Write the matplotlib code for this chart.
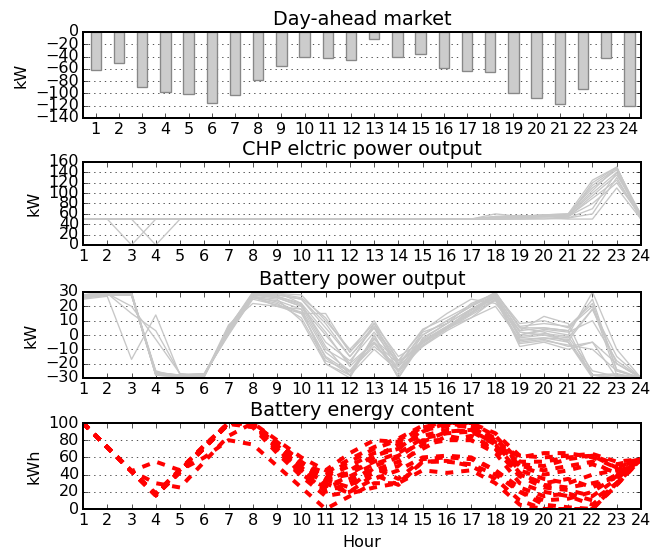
import matplotlib
matplotlib.use('Agg')
import matplotlib.pyplot as plt

plt.style.use('classic')

# hours and day-ahead purchase
hours = list(range(1, 25))
day_ahead = [-62, -50, -90, -98, -101, -116, -103, -78, -55, -40, -42, -46,
             -12, -40, -36, -59, -63, -65, -100, -108, -117, -92, -43, -120]

# CHP electric output per scenario (kW)
chp = [
    [50, 50, 50, 50, 50, 50, 50, 50, 50, 50, 50, 50, 50, 50, 50, 50, 50, 50, 52, 55, 55, 120, 150, 50],
    [50, 50, 0, 50, 50, 50, 50, 50, 50, 50, 50, 50, 50, 50, 50, 50, 50, 50, 55, 58, 60, 110, 145, 55],
    [50, 50, 50, 0, 50, 50, 50, 50, 50, 50, 50, 50, 50, 50, 50, 50, 50, 52, 55, 55, 57, 100, 140, 50],
    [50, 50, 50, 50, 50, 50, 50, 50, 50, 50, 50, 50, 50, 50, 50, 50, 50, 60, 55, 55, 55, 90, 125, 55],
    [50, 50, 50, 50, 50, 50, 50, 50, 50, 50, 50, 50, 50, 50, 50, 50, 50, 50, 50, 52, 50, 50, 110, 50],
    [50, 50, 50, 50, 50, 50, 50, 50, 50, 50, 50, 50, 50, 50, 50, 50, 50, 52, 55, 58, 58, 115, 148, 58],
    [50, 50, 50, 50, 50, 50, 50, 50, 50, 50, 50, 50, 50, 50, 50, 50, 50, 50, 55, 55, 52, 60, 130, 50],
    [50, 50, 50, 50, 50, 50, 50, 50, 50, 50, 50, 50, 50, 50, 50, 50, 50, 55, 55, 55, 57, 105, 150, 52],
    [50, 50, 50, 50, 50, 50, 50, 50, 50, 50, 50, 50, 50, 50, 50, 50, 50, 50, 52, 55, 55, 80, 120, 55],
    [50, 50, 50, 50, 50, 50, 50, 50, 50, 50, 50, 50, 50, 50, 50, 50, 50, 52, 55, 58, 60, 125, 150, 50],
    [50, 50, 50, 50, 50, 50, 50, 50, 50, 50, 50, 50, 50, 50, 50, 50, 50, 50, 50, 50, 52, 70, 140, 55],
    [50, 50, 50, 50, 50, 50, 50, 50, 50, 50, 50, 50, 50, 50, 50, 50, 50, 55, 57, 55, 55, 95, 135, 60],
]

# battery power per scenario (kW)
batt_power = [
    [27, 29, 29, -27, -28, -28, 2, 28, 26, 20, -10, -20, -5, -20, -5, 5, 15, 28, 2, 0, -2, 18, -15, -30],
    [28, 29, 30, -28, -29, -28, 4, 29, 28, 25, 5, -15, 5, -25, 0, 10, 20, 30, 5, 5, 3, 25, -25, -30],
    [26, 28, 28, -26, -28, -27, 0, 26, 22, 12, -18, -25, -3, -18, -8, 3, 12, 25, -5, -3, -8, -5, -20, -30],
    [28, 29, 15, 3, -27, -29, 5, 30, 29, 28, 10, -10, 8, -22, 2, 8, 22, 29, 8, 10, 5, 20, -28, -30],
    [25, 27, -17, 14, -28, -27, 3, 27, 20, 18, -20, -30, 0, -30, -2, 8, 18, 28, -8, -5, -10, -5, -30, -30],
    [28, 30, 29, -25, -30, -29, 6, 28, 26, 20, 0, -20, 8, -15, -5, 5, 18, 26, 0, 3, 0, 30, -10, -30],
    [27, 28, 28, -28, -29, -28, 2, 29, 30, 22, -8, -28, -10, -25, -8, 5, 15, 30, 5, 2, -5, -28, -30, -30],
    [27, 29, 20, -3, -27, -28, 7, 22, 20, 15, 15, -12, 10, -18, 3, 15, 25, 22, 3, 13, 8, -28, -28, -30],
    [26, 28, 28, -27, -28, -27, 1, 27, 25, 10, -20, -28, 0, -30, -5, 5, 12, 20, -3, -2, -3, -28, -27, -30],
    [28, 29, 29, -26, -28, -29, 3, 28, 28, 25, 8, -15, 5, -20, 0, 10, 20, 28, 3, 5, 3, -30, -30, -30],
    [27, 28, 29, -28, -29, -28, 4, 29, 27, 22, 2, -22, -5, -28, -3, 8, 18, 27, -2, 0, -4, 18, -20, -30],
    [26, 28, 28, -27, -28, -28, 3, 26, 24, 18, -12, -25, -8, -22, -6, 5, 15, 25, -4, -2, -5, -30, -28, -30],
    [27, 29, 28, -27, -28, -28, 3, 28, 27, 21, -5, -18, 2, -20, -4, 6, 16, 26, 0, 4, 2, 10, -18, -30],
    [26, 28, 28, -27, -28, -27, 2, 27, 23, 15, -15, -26, -6, -24, -7, 4, 14, 24, -6, -4, -7, -10, -25, -30],
    [28, 29, 29, -26, -29, -28, 5, 29, 29, 26, 12, -12, 6, -18, 4, 12, 21, 29, 6, 8, 6, 22, -24, -30],
    [27, 28, 28, -28, -28, -28, 1, 25, 21, 16, -16, -28, -2, -26, -4, 6, 17, 27, -1, 1, -1, -25, -29, -30],
]

# battery energy content per scenario (kWh)
batt_energy = [
    [100, 72, 44, 16, 43, 71, 99, 100, 72, 47, 32, 45, 62, 70, 90, 100, 100, 85, 55, 55, 60, 62, 48, 58],
    [100, 72, 44, 16, 44, 72, 100, 100, 75, 50, 40, 55, 70, 80, 95, 98, 95, 80, 50, 45, 50, 55, 40, 58],
    [100, 72, 44, 18, 46, 74, 100, 98, 70, 45, 20, 30, 50, 60, 80, 80, 80, 70, 40, 30, 35, 25, 40, 58],
    [100, 72, 44, 16, 43, 71, 99, 95, 65, 38, 15, 20, 35, 45, 60, 62, 60, 45, 20, 10, 12, 20, 38, 58],
    [100, 72, 44, 55, 45, 60, 80, 75, 50, 25, 0, 15, 30, 30, 55, 56, 50, 35, 10, 0, 0, 0, 30, 58],
    [100, 72, 44, 16, 44, 72, 100, 100, 78, 55, 35, 40, 60, 75, 85, 92, 90, 75, 45, 35, 30, 40, 45, 58],
    [100, 72, 44, 16, 45, 73, 100, 100, 72, 40, 25, 35, 45, 55, 70, 85, 80, 65, 30, 20, 15, 5, 30, 58],
    [100, 72, 44, 30, 25, 55, 85, 100, 80, 60, 45, 65, 80, 78, 95, 100, 95, 80, 60, 65, 65, 60, 48, 58],
    [100, 72, 44, 16, 44, 72, 100, 98, 70, 42, 28, 20, 40, 28, 55, 55, 52, 40, 20, 5, 2, 0, 28, 58],
    [100, 72, 44, 18, 46, 74, 100, 100, 74, 48, 30, 18, 25, 30, 45, 42, 45, 30, 5, 0, 0, 0, 28, 58],
    [100, 72, 44, 16, 44, 72, 100, 100, 76, 52, 38, 50, 65, 70, 92, 96, 98, 82, 52, 50, 58, 62, 52, 58],
    [100, 72, 44, 16, 43, 71, 99, 97, 68, 40, 22, 28, 42, 50, 75, 80, 85, 70, 38, 25, 22, 15, 35, 58],
    [100, 72, 44, 16, 44, 72, 100, 100, 74, 50, 36, 42, 55, 65, 82, 88, 90, 78, 50, 40, 45, 52, 42, 58],
    [100, 72, 44, 16, 43, 71, 99, 100, 70, 44, 26, 38, 52, 62, 78, 90, 92, 75, 42, 28, 25, 30, 36, 58],
    [100, 72, 44, 17, 45, 73, 100, 99, 72, 46, 34, 25, 48, 35, 58, 60, 58, 45, 25, 15, 18, 10, 30, 58],
    [100, 72, 44, 16, 44, 72, 100, 100, 77, 53, 42, 58, 72, 82, 97, 100, 100, 88, 62, 60, 62, 64, 55, 58],
]

DPI = 96
fig = plt.figure(figsize=(664 / DPI, 553 / DPI), dpi=DPI, facecolor='white')

W = 641 / 664 - 83 / 664
def panel(top, bottom):
    ax = fig.add_axes([83 / 664, 1 - bottom / 553, W, (bottom - top) / 553])
    for s in ax.spines.values():
        s.set_linewidth(1.5)
    ax.yaxis.grid(True, linestyle=':', color='k')
    ax.xaxis.grid(False)
    ax.set_axisbelow(True)
    ax.tick_params(pad=3)
    return ax

# Day-ahead market
ax1 = panel(32, 118)
ax1.bar(hours, day_ahead, width=0.45, align='center', color='#cccccc', edgecolor='#888888', linewidth=1)
ax1.set_xlim(0.45, 24.5)
ax1.set_ylim(-140, 0)
ax1.set_yticks(range(-140, 1, 20))
ax1.set_xticks(hours)
ax1.set_title('Day-ahead market', fontsize=14.4)
ax1.set_ylabel('kW')

# CHP
ax2 = panel(162, 245)
for s in chp:
    ax2.plot(hours, s, color='0.78', linewidth=1)
ax2.set_xlim(1, 24)
ax2.set_ylim(0, 160)
ax2.set_yticks(range(0, 161, 20))
ax2.set_xticks(hours)
ax2.set_title('CHP elctric power output', fontsize=14.4)
ax2.set_ylabel('kW')

# battery power
ax3 = panel(292, 378)
for s in batt_power:
    ax3.plot(hours, s, color='0.78', linewidth=1)
ax3.set_xlim(1, 24)
ax3.set_ylim(-30, 30)
ax3.set_yticks(range(-30, 31, 10))
ax3.set_xticks(hours)
ax3.set_title('Battery power output', fontsize=14.4)
ax3.set_ylabel('kW')

# battery energy
ax4 = panel(423, 509)
for s in batt_energy:
    ax4.plot(hours, s, color='r', linestyle='--', linewidth=3)
ax4.set_xlim(1, 24)
ax4.set_ylim(0, 100)
ax4.set_yticks(range(0, 101, 20))
ax4.set_xticks(hours)
ax4.set_title('Battery energy content', fontsize=14.4)
ax4.set_ylabel('kWh')
ax4.set_xlabel('Hour')

fig.savefig('out.png', dpi=DPI, facecolor='white')
